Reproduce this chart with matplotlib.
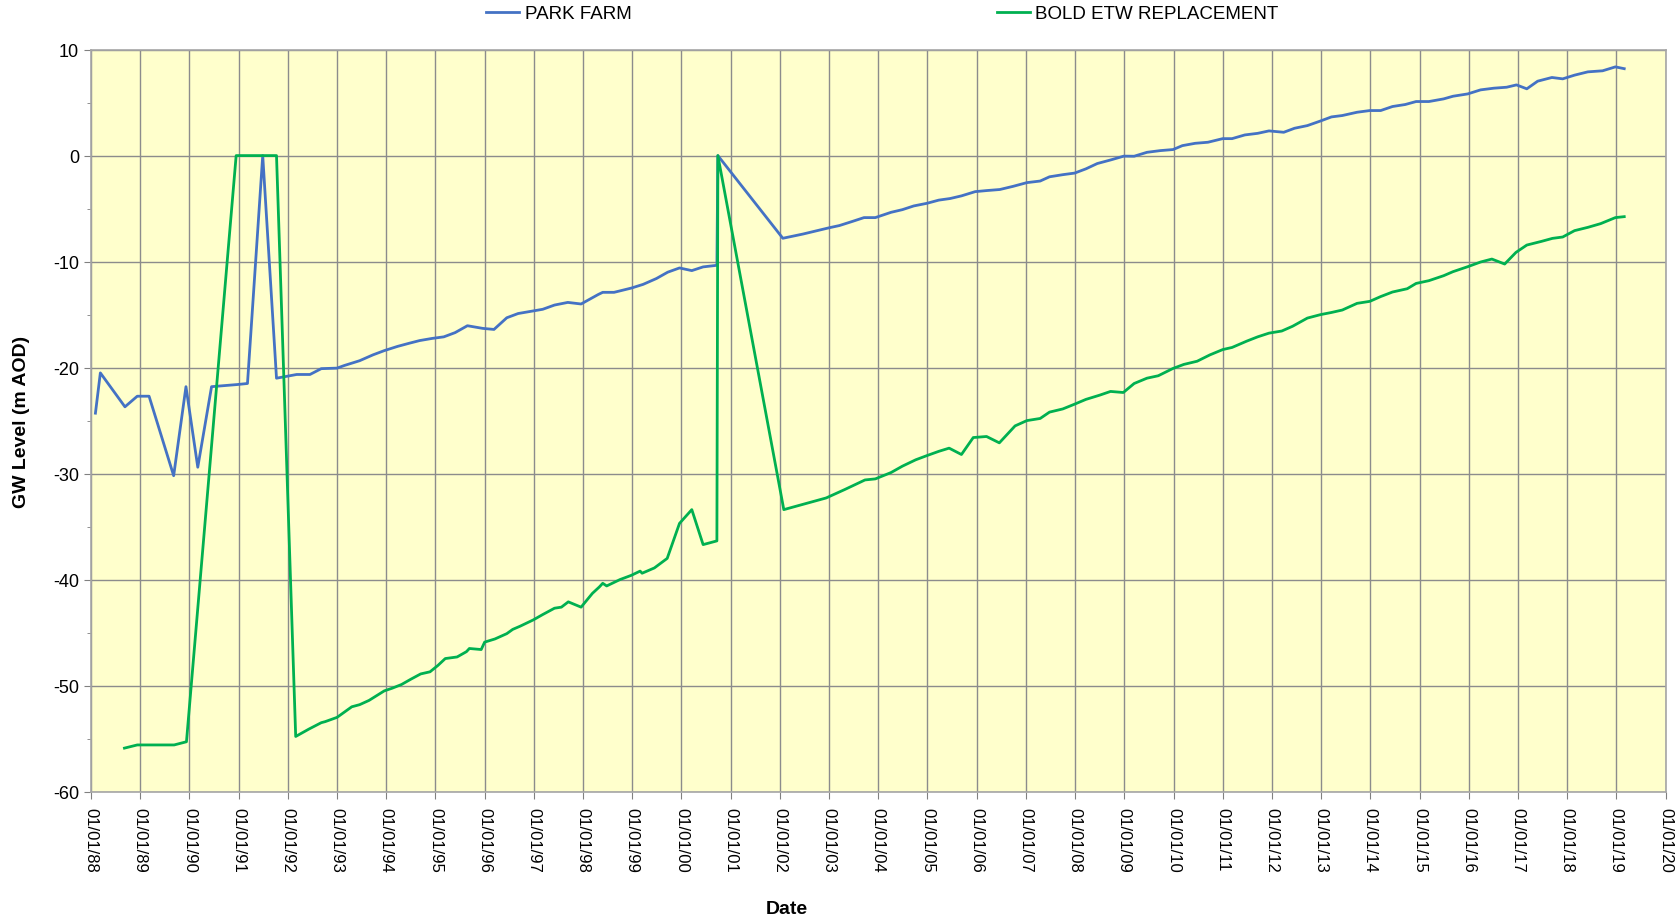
import matplotlib
matplotlib.use('Agg')
import matplotlib.pyplot as plt
from matplotlib.ticker import MultipleLocator

plt.rcParams['font.family'] = ['Liberation Sans', 'DejaVu Sans']
plt.rcParams['axes.unicode_minus'] = False

# PARK FARM (fecha en años decimales, nivel en m AOD)
park_x = [1988.09, 1988.19, 1988.69, 1988.94, 1989.18, 1989.68, 1989.93, 1990.17, 1990.45, 1990.97,
          1991.18, 1991.49, 1991.77, 1992.18, 1992.45, 1992.68, 1993.00, 1993.15, 1993.46, 1993.73,
          1993.96, 1994.23, 1994.47, 1994.68, 1994.93, 1995.17, 1995.40, 1995.65, 1995.96, 1996.19,
          1996.45, 1996.68, 1997.18, 1997.42, 1997.69, 1997.96, 1998.31, 1998.40, 1998.63, 1998.98,
          1999.22, 1999.49, 1999.72, 1999.96, 2000.21, 2000.44, 2000.72, 2000.74, 2002.06, 2002.47,
          2003.01, 2003.21, 2003.48, 2003.71, 2003.94, 2004.26, 2004.49, 2004.72, 2004.99, 2005.23,
          2005.46, 2005.69, 2005.97, 2006.20, 2006.47, 2006.74, 2007.02, 2007.29, 2007.48, 2007.75,
          2007.99, 2008.22, 2008.45, 2008.73, 2008.99, 2009.20, 2009.46, 2009.73, 2009.99, 2010.18,
          2010.44, 2010.70, 2011.00, 2011.19, 2011.45, 2011.71, 2011.94, 2012.24, 2012.46, 2012.72,
          2012.99, 2013.21, 2013.43, 2013.73, 2013.99, 2014.21, 2014.45, 2014.71, 2014.93, 2015.19,
          2015.49, 2015.68, 2015.98, 2016.24, 2016.51, 2016.77, 2016.97, 2017.18, 2017.40, 2017.69,
          2017.91, 2018.15, 2018.42, 2018.72, 2018.98, 2019.16]
park_y = [-24.3, -20.5, -23.7, -22.7, -22.7, -30.2, -21.8, -29.4, -21.8, -21.6,
          -21.5, 0.0, -21.0, -20.65, -20.65, -20.1, -20.05, -19.8, -19.35, -18.8,
          -18.4, -18.0, -17.7, -17.45, -17.25, -17.1, -16.7, -16.05, -16.3, -16.4,
          -15.3, -14.9, -14.5, -14.1, -13.85, -14.0, -13.1, -12.9, -12.9, -12.5,
          -12.15, -11.6, -11.0, -10.6, -10.85, -10.5, -10.35, 0.0, -7.8, -7.4,
          -6.8, -6.6, -6.2, -5.85, -5.85, -5.35, -5.1, -4.75, -4.5, -4.2,
          -4.05, -3.8, -3.4, -3.3, -3.2, -2.9, -2.55, -2.4, -2.0, -1.8,
          -1.65, -1.25, -0.75, -0.4, -0.05, -0.06, 0.31, 0.47, 0.57, 0.94,
          1.16, 1.26, 1.6, 1.6, 1.95, 2.1, 2.33, 2.2, 2.58, 2.83,
          3.27, 3.65, 3.78, 4.09, 4.25, 4.25, 4.63, 4.82, 5.1, 5.1,
          5.35, 5.6, 5.82, 6.2, 6.36, 6.45, 6.67, 6.3, 7.02, 7.37,
          7.24, 7.59, 7.9, 8.0, 8.37, 8.2]

# BOLD ETW REPLACEMENT
bold_x = [1988.68, 1988.94, 1989.69, 1989.94, 1990.95, 1991.77, 1992.16, 1992.43, 1992.68, 1992.76,
          1993.00, 1993.15, 1993.30, 1993.46, 1993.65, 1993.96, 1994.12, 1994.31, 1994.50, 1994.70,
          1994.89, 1995.05, 1995.20, 1995.44, 1995.63, 1995.69, 1995.93, 1996.00, 1996.21, 1996.45,
          1996.57, 1996.72, 1996.99, 1997.18, 1997.42, 1997.56, 1997.70, 1997.96, 1998.19, 1998.33,
          1998.40, 1998.48, 1998.75, 1998.98, 1999.16, 1999.20, 1999.45, 1999.71, 1999.96, 2000.21,
          2000.44, 2000.72, 2000.74, 2002.08, 2002.47, 2002.94, 2003.32, 2003.73, 2003.94, 2004.26,
          2004.49, 2004.76, 2004.99, 2005.23, 2005.44, 2005.69, 2005.93, 2006.20, 2006.46, 2006.78,
          2007.02, 2007.29, 2007.48, 2007.75, 2007.99, 2008.22, 2008.50, 2008.72, 2008.98, 2009.20,
          2009.46, 2009.69, 2009.99, 2010.21, 2010.48, 2010.74, 2011.00, 2011.19, 2011.49, 2011.71,
          2011.94, 2012.20, 2012.42, 2012.72, 2012.99, 2013.21, 2013.43, 2013.73, 2013.99, 2014.21,
          2014.45, 2014.75, 2014.93, 2015.19, 2015.49, 2015.68, 2015.98, 2016.24, 2016.47, 2016.73,
          2016.96, 2017.18, 2017.48, 2017.70, 2017.91, 2018.15, 2018.42, 2018.68, 2018.98, 2019.16]
bold_y = [-55.9, -55.6, -55.6, -55.3, 0.0, 0.0, -54.8, -54.1, -53.5, -53.4,
          -53.0, -52.5, -52.0, -51.8, -51.4, -50.5, -50.25, -49.9, -49.4, -48.9,
          -48.7, -48.1, -47.45, -47.3, -46.8, -46.5, -46.6, -45.9, -45.6, -45.1,
          -44.7, -44.4, -43.8, -43.3, -42.7, -42.6, -42.1, -42.6, -41.3, -40.7,
          -40.35, -40.6, -40.0, -39.6, -39.2, -39.4, -38.9, -38.0, -34.7, -33.4,
          -36.7, -36.35, 0.0, -33.4, -32.9, -32.3, -31.5, -30.6, -30.5, -29.9,
          -29.3, -28.7, -28.3, -27.9, -27.6, -28.2, -26.6, -26.5, -27.1, -25.5,
          -25.0, -24.8, -24.2, -23.9, -23.45, -23.0, -22.6, -22.25, -22.35, -21.5,
          -21.0, -20.77, -20.08, -19.7, -19.4, -18.8, -18.3, -18.1, -17.5, -17.1,
          -16.75, -16.55, -16.1, -15.33, -15.0, -14.8, -14.57, -13.94, -13.75, -13.3,
          -12.87, -12.56, -12.06, -11.8, -11.33, -10.95, -10.48, -10.04, -9.76, -10.23,
          -9.13, -8.44, -8.09, -7.81, -7.68, -7.08, -6.77, -6.42, -5.85, -5.76]

years = list(range(1988, 2021))
year_labels = ['01/01/%02d' % (y % 100) for y in years]

fig = plt.figure(figsize=(16.79, 9.2), dpi=100)
ax = fig.add_axes([0.0542, 0.1385, 0.9378, 0.8065])
ax.set_facecolor('#FFFFCC')

ax.plot(park_x, park_y, color='#4472C4', linewidth=2.0, label='PARK FARM')
ax.plot(bold_x, bold_y, color='#00B050', linewidth=2.0, label='BOLD ETW REPLACEMENT')

ax.set_xlim(1988, 2020)
ax.set_ylim(-60, 10)
ax.set_xticks(years)
ax.set_xticklabels(year_labels, rotation=270, fontsize=12)
ax.yaxis.set_major_locator(MultipleLocator(10))
ax.yaxis.set_minor_locator(MultipleLocator(5))
ax.tick_params(axis='y', labelsize=13, colors='#808080', labelcolor='black', length=5)
ax.tick_params(axis='y', which='minor', colors='#808080', length=3)
ax.tick_params(axis='x', colors='#808080', labelcolor='black', length=5, pad=6)
ax.grid(True, color='#8c8c8c', linewidth=1.0)
ax.set_axisbelow(True)
for s in ax.spines.values():
    s.set_color('#a6a6a6')
    s.set_linewidth(1.2)

ax.set_ylabel('GW Level (m AOD)', fontsize=14, fontweight='bold')
ax.set_xlabel('Date', fontsize=14, fontweight='bold')
ax.yaxis.set_label_coords(-0.0387, 0.5)
ax.xaxis.set_label_coords(0.442, -0.146)

fig.legend(loc='center', bbox_to_anchor=(0.5255, 0.984), ncol=2, frameon=False,
           fontsize=13.5, handlelength=1.75, handletextpad=0.3, columnspacing=19.5)

fig.savefig('out.png', dpi=100)
